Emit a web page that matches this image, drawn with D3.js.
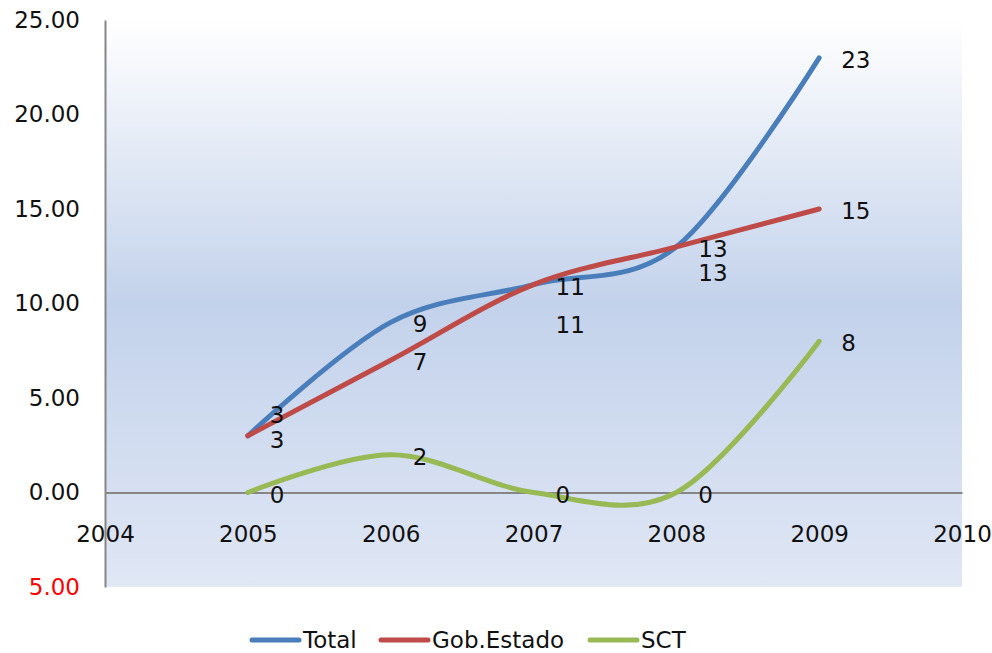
<!DOCTYPE html>
<html>
  <head>
    <meta charset="utf-8">
    <title>Total / Gob.Estado / SCT</title>
    <script type="text/javascript" src="https://cdn.jsdelivr.net/npm/d3@7"></script>
    <style type="text/css">
      body {
        margin: 0;
        background: #ffffff;
      }
      text {
        font-family: "DejaVu Sans", sans-serif;
        font-size: 23px;
        fill: #111;
      }
    </style>
  </head>
  <body>
  <script type="text/javascript">

  // data
  var years = [2005, 2006, 2007, 2008, 2009]
  var total = [3, 9, 11, 13, 23]
  var gobEstado = [3, 7, 11, 13, 15]
  var sct = [0, 2, 0, 0, 8]
  var yTicks = [-5, 0, 5, 10, 15, 20, 25]
  var xTicks = [2004, 2005, 2006, 2007, 2008, 2009, 2010]

  var series = [
    { name: 'Total', values: total, color: '#4a7ebb', shift: [-23, 0, 0, 0, 0] },
    { name: 'Gob.Estado', values: gobEstado, color: '#be4b48', shift: [2, 0, 38, 24, 0] },
    { name: 'SCT', values: sct, color: '#98b954', shift: [0, 0, 0, 0, 0] }
  ]

  var W = 992, H = 653

  var svg = d3.select('body')
    .append('svg')
      .attr('width', W)
      .attr('height', H)

  var x = d3.scaleLinear().domain([2004, 2010]).range([105, 962])
  var y = d3.scaleLinear().domain([-5, 25]).range([587, 20])

  // plot area gradient
  var grad = svg.append('defs').append('linearGradient')
      .attr('id', 'bg')
      .attr('x1', 0).attr('y1', 0).attr('x2', 0).attr('y2', 1)
  grad.append('stop').attr('offset', '0%').attr('stop-color', '#ffffff')
  grad.append('stop').attr('offset', '50%').attr('stop-color', '#c3d2eb')
  grad.append('stop').attr('offset', '100%').attr('stop-color', '#e0e7f5')

  svg.append('rect')
      .attr('x', x(2004))
      .attr('y', y(25))
      .attr('width', x(2010) - x(2004))
      .attr('height', y(-5) - y(25))
      .attr('fill', 'url(#bg)')

  // y axis
  var yAxis = svg.append('g')
      .attr('transform', 'translate(' + x(2004) + ',0)')
      .call(d3.axisLeft(y).tickValues(yTicks).tickSize(0).tickPadding(25)
        .tickFormat(function(d) { return Math.abs(d).toFixed(2); }))
  yAxis.select('.domain').attr('stroke', '#868686').attr('stroke-width', 2)
  yAxis.selectAll('text')
      .style('fill', function(d) { return d < 0 ? '#ff0000' : '#111'; })
      .attr('font-size', null).attr('font-family', null)

  // x axis crossing at zero
  var xAxis = svg.append('g')
      .attr('transform', 'translate(0,' + y(0) + ')')
      .call(d3.axisBottom(x).tickValues(xTicks).tickSize(0).tickPadding(33)
        .tickFormat(d3.format('d')))
  xAxis.select('.domain').attr('stroke', '#868686').attr('stroke-width', 2)
  xAxis.selectAll('text').attr('font-size', null).attr('font-family', null)

  // smooth lines (Excel style)
  var line = d3.line()
      .x(function(d) { return x(d[0]); })
      .y(function(d) { return y(d[1]); })
      .curve(d3.curveCardinal.tension(0))

  svg.selectAll('path.series').data(series)
    .enter().append('path')
      .attr('class', 'series')
      .attr('fill', 'none')
      .attr('stroke', function(d) { return d.color; })
      .attr('stroke-width', 5)
      .attr('stroke-linecap', 'round')
      .attr('d', function(d) {
        return line(years.map(function(yr, i) { return [yr, d.values[i]]; }))
      })

  // data labels
  series.forEach(function(s) {
    svg.selectAll(null).data(s.values)
      .enter().append('text')
        .attr('x', function(d, i) { return x(years[i]) + 22; })
        .attr('y', function(d, i) { return y(d) + 2 + s.shift[i]; })
        .attr('dominant-baseline', 'central')
        .text(function(d) { return d; })
  })

  // legend
  var legendX = [252, 381, 590]
  var legend = svg.selectAll('g.legend').data(series)
    .enter().append('g')
      .attr('class', 'legend')
      .attr('transform', function(d, i) { return 'translate(' + legendX[i] + ',640)'; })
  legend.append('line')
      .attr('x1', 0).attr('x2', 47)
      .attr('stroke', function(d) { return d.color; })
      .attr('stroke-width', 5)
      .attr('stroke-linecap', 'round')
  legend.append('text')
      .attr('x', 51)
      .attr('dominant-baseline', 'central')
      .text(function(d) { return d.name; })

  </script>
  </body>
</html>
